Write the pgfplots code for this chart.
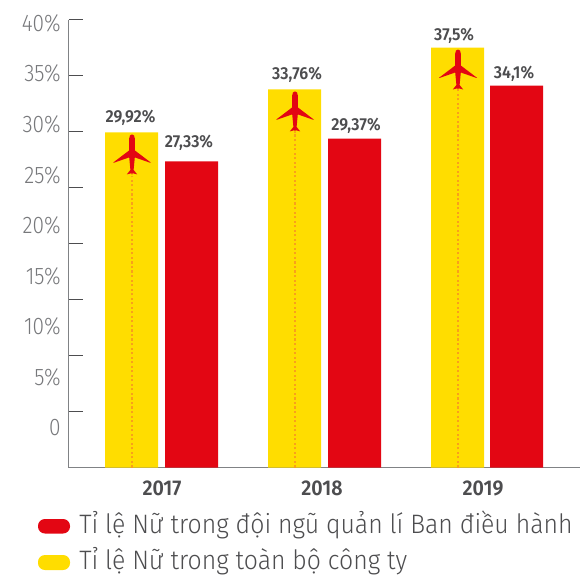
\documentclass[border=0pt]{standalone}
\usepackage{pgfplots}
\pgfplotsset{compat=1.18}
\usepackage{fontspec}
\setmainfont{Fira Sans Light}[BoldFont={Fira Sans SemiBold}]
\newfontfamily\tickfont{Fira Sans Light}[FakeStretch=0.87]
\newfontfamily\legfont{Fira Sans Light}[FakeStretch=0.93]
\newfontfamily\datafont{Fira Sans SemiBold}[FakeStretch=0.92]
\definecolor{ycol}{HTML}{FFDD00}
\definecolor{rcol}{HTML}{E30613}
\definecolor{dots}{HTML}{F9A01B}
\definecolor{gtext}{HTML}{77787B}
\definecolor{dtext}{HTML}{4D4D4F}
\definecolor{spine}{HTML}{808285}
\def\P#1#2{\pgfpoint{(#1)*0.75pt}{-(#2+2)*0.75pt}}
\pgfdeclareplotmark{plane}{%
 \pgfpathmoveto{\P{0}{0}}
 \pgfpathcurveto{\P{1.6}{0}}{\P{2.8}{1.5}}{\P{2.8}{4}}
 \pgfpathlineto{\P{2.8}{16}}
 \pgfpathlineto{\P{19}{28.3}}
 \pgfpathlineto{\P{18}{28.3}}
 \pgfpathlineto{\P{2.8}{23}}
 \pgfpathlineto{\P{1.6}{35.5}}
 \pgfpathlineto{\P{5.2}{40}}
 \pgfpathlineto{\P{0.6}{38.8}}
 \pgfpathlineto{\P{0}{40.5}}
 \pgfpathlineto{\P{-0.6}{38.8}}
 \pgfpathlineto{\P{-5.2}{40}}
 \pgfpathlineto{\P{-1.6}{35.5}}
 \pgfpathlineto{\P{-2.8}{23}}
 \pgfpathlineto{\P{-18}{28.3}}
 \pgfpathlineto{\P{-19}{28.3}}
 \pgfpathlineto{\P{-2.8}{16}}
 \pgfpathlineto{\P{-2.8}{4}}
 \pgfpathcurveto{\P{-2.8}{1.5}}{\P{-1.6}{0}}{\P{0}{0}}
 \pgfpathclose
 \pgfusepathqfill
}
\begin{document}
\begin{tikzpicture}
\path[use as bounding box] (0,0) rectangle (435pt,432pt);
\begin{axis}[
  at={(51.375pt,81.375pt)}, anchor=origin,
  scale only axis, width=383.625pt, height=336pt,
  xmin=68.5, xmax=580, ymin=0, ymax=40,
  axis x line*=bottom, axis y line*=left,
  axis line style={spine,line width=0.9pt,-},
  xtick={162,322,483}, xticklabels={2017,2018,2019},
  x tick style={draw=none},
  x tick label style={font=\datafont\fontsize{16}{17}\selectfont, text=dtext, yshift=4pt},
  ytick={5,10,...,40}, yticklabels={},
  tick align=inside, major tick length=10.5pt,
  y tick style={color=dtext,line width=0.6pt},
  clip=false,
  ybar, bar shift=0pt, bar width=39.75pt,
]
\addplot[fill=ycol,draw=none] table {
x y
131.5 29.92
294.5 33.76
457.5 37.5
};
\addplot[fill=rcol,draw=none] table {
x y
191.5 27.33
354.5 29.37
516.5 34.1
};
\end{axis}
\begin{axis}[
  at={(51.375pt,81.375pt)}, anchor=origin,
  scale only axis, width=383.625pt, height=336pt,
  xmin=68.5, xmax=580, ymin=0, ymax=40,
  axis lines=none, clip=false,
]
\addplot[dots,line width=1pt,dash pattern=on 1.6pt off 1.8pt] coordinates {(132,0)(132,26)};
\addplot[dots,line width=1pt,dash pattern=on 1.6pt off 1.8pt] coordinates {(295,0)(295,30)};
\addplot[dots,line width=1pt,dash pattern=on 1.6pt off 1.8pt] coordinates {(458,0)(458,33.7)};
\addplot[only marks,mark=plane,mark options={fill=rcol,draw=none}] coordinates {(132,29.92)(295,33.76)(458,37.5)};
\end{axis}
\begin{scope}[shift={(0,432pt)},x=0.75pt,y=-0.75pt]
\tikzset{yl/.style={anchor=base east,inner sep=0pt,text=gtext,font=\tickfont\fontsize{18}{20}\selectfont},
         dl/.style={anchor=base,inner sep=0pt,text=dtext,font=\datafont\fontsize{13}{14}\selectfont},
         lg/.style={anchor=base west,inner sep=0pt,text=dtext,font=\legfont\fontsize{20}{22}\selectfont}}
\node[yl] at (61,31.5) {40\%};
\node[yl] at (61,82) {35\%};
\node[yl] at (61,132) {30\%};
\node[yl] at (61,183) {25\%};
\node[yl] at (61,233) {20\%};
\node[yl] at (61,284) {15\%};
\node[yl] at (61,334) {10\%};
\node[yl] at (61,385) {5\%};
\node[yl] at (61,435) {0};
\node[dl] at (130.5,122) {29,92\%};
\node[dl] at (189,147) {27,33\%};
\node[dl] at (297,80) {33,76\%};
\node[dl] at (356,130) {29,37\%};
\node[dl] at (454,41) {37,5\%};
\node[dl] at (514,78) {34,1\%};
\fill[rcol,rounded corners=5.2pt] (38,519) rectangle (70,533.5);
\fill[ycol,rounded corners=5.2pt] (38,555) rectangle (70,570);
\node[lg] at (79,533.5) {Tỉ lệ Nữ trong đội ngũ quản lí Ban điều hành};
\node[lg] at (79,569.5) {Tỉ lệ Nữ trong toàn bộ công ty};
\end{scope}
\end{tikzpicture}
\end{document}
